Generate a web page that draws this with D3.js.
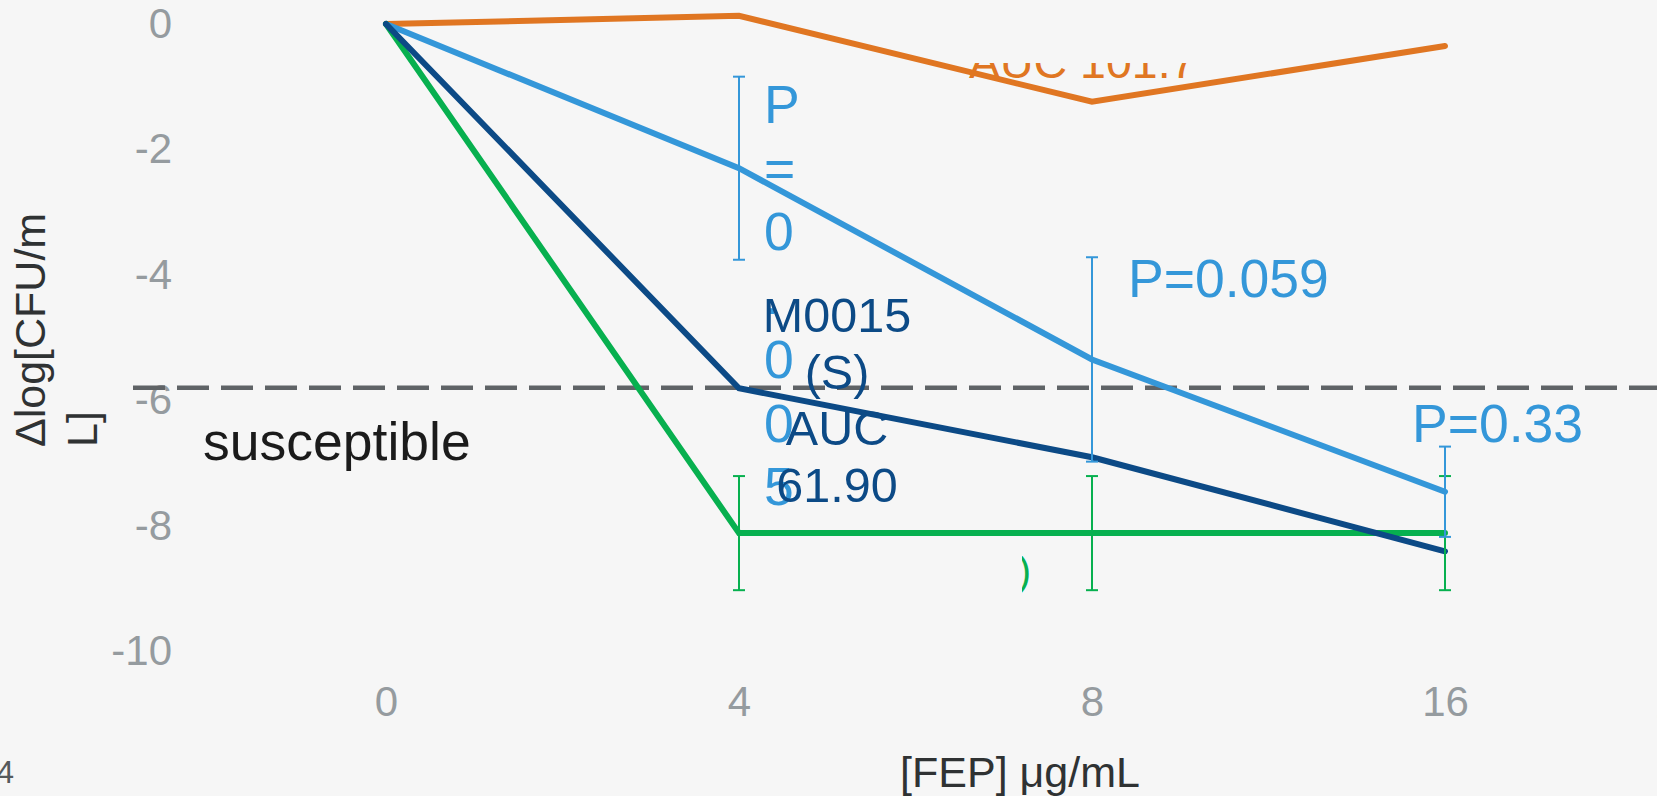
<!DOCTYPE html>
<html>
<head>
<meta charset="utf-8">
<script src="https://cdn.jsdelivr.net/npm/d3@7"></script>
<style>
  html, body { margin: 0; padding: 0; background: #f6f6f6; }
  svg { display: block; }
  text { font-family: "Liberation Sans", Arial, Helvetica, sans-serif; }
</style>
</head>
<body>
<script>
// ---------- data ----------
const concentrations = ["0", "4", "8", "16"];
const yTicks = [0, -2, -4, -6, -8, -10];
const seriesOrange    = [0, 0.13, -1.24, -0.35];
const seriesLightBlue = [0, -2.30, -5.35, -7.46];
const seriesNavy      = [0, -5.81, -6.91, -8.41];
const seriesGreen     = [0, -8.12, -8.12, -8.12];
const errLightBlue    = [null, 1.46, 1.63, 0.72];
const errGreen        = [null, 0.91, 0.91, 0.91];
const susceptibleThreshold = -5.8;
const pLabels = ["P=0.005", "P=0.059", "P=0.33"];
const navyLabel = ["M0015", "(S)", "AUC", "61.90"];
const orangeLabel = "AUC 101.7";

// ---------- setup ----------
const W = 1657, H = 796;
const C = {
  orange: "#e07622",
  light: "#3497d9",
  navy: "#0c4a86",
  green: "#07b04f",
  tick: "#959b9f",
  title: "#2f3233",
  dash: "#5f6366"
};

const svg = d3.select("body").append("svg").attr("width", W).attr("height", H);
const defs = svg.append("defs");
defs.append("clipPath").attr("id", "clipOrange").attr("clipPathUnits", "userSpaceOnUse")
  .append("rect").attr("x", 0).attr("y", 63).attr("width", W).attr("height", H - 63);
defs.append("clipPath").attr("id", "clipGreen").attr("clipPathUnits", "userSpaceOnUse")
  .append("rect").attr("x", 1022).attr("y", 556).attr("width", 40).attr("height", 40);

svg.append("rect").attr("width", W).attr("height", H).attr("fill", "#f6f6f6");

const x = d3.scalePoint().domain(concentrations).range([386, 1445]);
const y = d3.scaleLinear().domain([-10, 0]).range([651, 24]);

// ---------- axes (labels only) ----------
const yAxis = svg.append("g").attr("transform", "translate(172,0)")
  .call(d3.axisLeft(y).tickValues(yTicks).tickSize(0).tickPadding(0).tickFormat(d => String(d)));
yAxis.select(".domain").remove();
yAxis.selectAll("text")
  .attr("x", 0).attr("dy", "0.32em")
  .attr("fill", C.tick).style("font-size", "42px")
  .style("font-family", "'Liberation Sans', Arial, sans-serif");

const xAxis = svg.append("g").attr("transform", "translate(0,651)")
  .call(d3.axisBottom(x).tickSize(0));
xAxis.select(".domain").remove();
xAxis.selectAll("text")
  .attr("y", 716 - 651).attr("dy", null)
  .attr("fill", C.tick).style("font-size", "42px")
  .style("font-family", "'Liberation Sans', Arial, sans-serif");

// axis titles
const yTitle = svg.append("text")
  .attr("transform", "translate(45,447) rotate(-90)")
  .attr("fill", C.title).style("font-size", "43px").attr("text-anchor", "start");
yTitle.append("tspan").attr("x", 0).attr("dy", 0).text("Δlog[CFU/m");
yTitle.append("tspan").attr("x", 0).attr("dy", 52).text("L]");

svg.append("text").attr("x", 1020).attr("y", 787).attr("text-anchor", "middle")
  .attr("fill", C.title).style("font-size", "43px").text("[FEP] μg/mL");

// stray cropped texts at the edges
svg.append("text").attr("x", 14).attr("y", 783).attr("text-anchor", "end")
  .attr("fill", "#555a5c").style("font-size", "32px").text("4");
svg.append("text").attr("x", 1655.5).attr("y", 718)
  .attr("fill", C.tick).style("font-size", "42px").text("2");

// ---------- threshold ----------
svg.append("line")
  .attr("x1", 133).attr("x2", W)
  .attr("y1", y(susceptibleThreshold)).attr("y2", y(susceptibleThreshold))
  .attr("stroke", C.dash).attr("stroke-width", 4.5).attr("stroke-dasharray", "32,12");

svg.append("text").attr("x", 203).attr("y", 460)
  .attr("fill", "#1b1b1b").style("font-size", "53.5px").text("susceptible");

// ---------- orange label (clipped) ----------
svg.append("g").attr("clip-path", "url(#clipOrange)")
  .append("text")
  .attr("x", 969).attr("y", 78).attr("fill", C.orange).style("font-size", "46.5px")
  .text(orangeLabel);

// ---------- lines ----------
const line = d3.line().x((d, i) => x(concentrations[i])).y(d => y(d));
const series = [
  { vals: seriesOrange, color: C.orange },
  { vals: seriesLightBlue, color: C.light },
  { vals: seriesGreen, color: C.green },
  { vals: seriesNavy, color: C.navy }
];
series.forEach(s => {
  svg.append("path").datum(s.vals).attr("d", line)
    .attr("fill", "none").attr("stroke", s.color).attr("stroke-width", 6)
    .attr("stroke-linecap", "round").attr("stroke-linejoin", "miter");
});

// ---------- error bars ----------
function errorBars(vals, errs, color) {
  const g = svg.append("g").attr("stroke", color).attr("stroke-width", 2);
  vals.forEach((v, i) => {
    const e = errs[i];
    if (e == null) return;
    const cx = x(concentrations[i]);
    g.append("line").attr("x1", cx).attr("x2", cx).attr("y1", y(v + e)).attr("y2", y(v - e));
    g.append("line").attr("x1", cx - 6).attr("x2", cx + 6).attr("y1", y(v + e)).attr("y2", y(v + e));
    g.append("line").attr("x1", cx - 6).attr("x2", cx + 6).attr("y1", y(v - e)).attr("y2", y(v - e));
  });
}
errorBars(seriesGreen, errGreen, C.green);
errorBars(seriesLightBlue, errLightBlue, C.light);

// ---------- P value labels ----------
const pCol = svg.append("text").attr("fill", C.light).style("font-size", "53.5px");
pLabels[0].split("").forEach((ch, i) => {
  pCol.append("tspan").attr("x", 764).attr("y", 123 + i * 63.7).text(ch);
});
svg.append("text").attr("x", 1128).attr("y", 297).attr("fill", C.light)
  .style("font-size", "53.5px").text(pLabels[1]);
svg.append("text").attr("x", 1412).attr("y", 442).attr("fill", C.light)
  .style("font-size", "53.5px").text(pLabels[2]);

// ---------- navy label ----------
const nav = svg.append("text").attr("fill", C.navy).attr("text-anchor", "middle")
  .style("font-size", "48.5px");
navyLabel.forEach((t, i) => {
  nav.append("tspan").attr("x", 837).attr("y", 332 + i * 56.7).text(t);
});

// green clipped label fragment
svg.append("g").attr("clip-path", "url(#clipGreen)")
  .append("text")
  .attr("x", 1031).attr("y", 585).attr("text-anchor", "end")
  .attr("fill", C.green).style("font-size", "40px").text("(R)");
</script>
</body>
</html>
